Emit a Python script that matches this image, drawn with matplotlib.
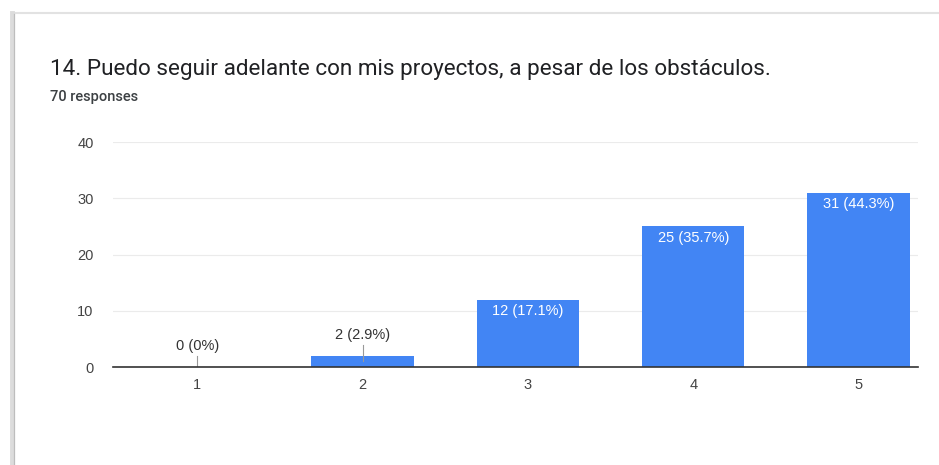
import matplotlib.pyplot as plt
from matplotlib.lines import Line2D

plt.rcParams['font.family'] = ['Liberation Sans', 'DejaVu Sans']

categories = ['1', '2', '3', '4', '5']
counts = [0, 2, 12, 25, 31]
total = 70
title = '14. Puedo seguir adelante con mis proyectos, a pesar de los obstáculos.'
subtitle = '70 responses'

blue = '#4285F4'

fig = plt.figure(figsize=(9.39, 4.65), dpi=100)
fig.patch.set_facecolor('white')

# card outline: faint top edge, darker shadowed left edge
fig.add_artist(Line2D([14 / 939, 1.0], [1 - 13 / 465] * 2, transform=fig.transFigure,
                      color='#e2e2e2', lw=1.5))
fig.add_artist(Line2D([12 / 939] * 2, [0, 1 - 13 / 465], transform=fig.transFigure,
                      color='#dcdcdc', lw=3.5))
fig.add_artist(Line2D([14 / 939] * 2, [0, 1 - 14 / 465], transform=fig.transFigure,
                      color='#bdbdbd', lw=0.9))

fig.text(50 / 939, 1 - 69 / 465, title, fontsize=16.2, color='#202124', va='center',
         family=['Roboto', 'DejaVu Sans'])
fig.text(50 / 939, 1 - 97 / 465, subtitle, fontsize=10.5, color='#3c4043',
         va='center', family=['Roboto', 'DejaVu Sans'], fontweight='medium')

ax = fig.add_axes([113 / 939, 98 / 465, 805 / 939, 225 / 465])
x = list(range(1, len(categories) + 1))
ax.bar(x, counts, width=0.62, color=blue, zorder=2)

ax.set_xlim(0.49, 5.36)
ax.set_ylim(0, 40)
ax.set_yticks([0, 10, 20, 30, 40])
ax.set_xticks(x)
ax.set_xticklabels(categories)
ax.grid(axis='y', color='#ebebeb', lw=0.8, zorder=0)
for s in ['top', 'right', 'left']:
    ax.spines[s].set_visible(False)
ax.spines['bottom'].set_color('#333333')
ax.spines['bottom'].set_linewidth(1.2)
ax.spines['bottom'].set_zorder(3)
ax.tick_params(length=0, labelsize=10.5, labelcolor='#444444')
ax.tick_params(axis='x', pad=8)
ax.tick_params(axis='y', pad=14)

for xi, c in zip(x, counts):
    pct = 100 * c / total
    label = f'{c} ({pct:.0f}%)' if c == 0 else f'{c} ({pct:.1f}%)'
    if c >= 5:
        ax.annotate(label, (xi, c), xytext=(0, -3), textcoords='offset points',
                    ha='center', va='top', color='white', fontsize=10.5, zorder=4)
    else:
        ax.plot([xi, xi], [c * 0.5, c + 2.0], color='#999999', lw=0.8, zorder=3)
        ax.annotate(label, (xi, c + 2.0), xytext=(0, 2), textcoords='offset points',
                    ha='center', va='bottom', color='#333333', fontsize=10.5, zorder=4)

fig.savefig('out.png', dpi=100)
